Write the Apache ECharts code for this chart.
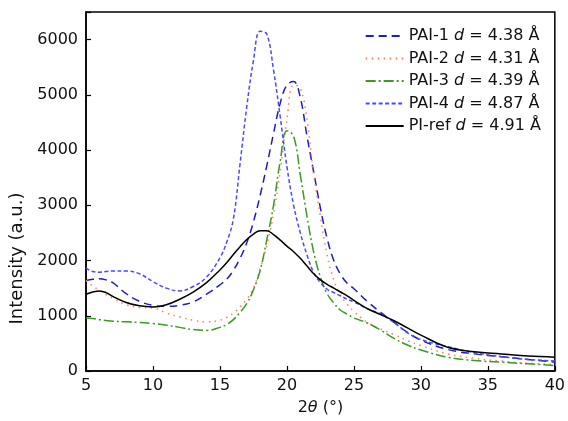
<!DOCTYPE html>
<html>
<head>
<meta charset="utf-8">
<script src="https://cdn.jsdelivr.net/npm/echarts@6/dist/echarts.min.js"></script>
<style>html,body{margin:0;padding:0;background:#fff}#c{width:568px;height:421px}</style>
</head>
<body>
<div id="c"></div>
<script>
// 2θ values (degrees)
const twoTheta = [5, 5.5, 6, 6.5, 7, 8, 9, 10, 11, 12, 13, 14, 15, 15.5, 16, 16.5, 17, 17.5, 18, 18.5, 19, 19.5, 20, 20.5, 21, 21.5, 22, 22.5, 23, 23.5, 24, 24.5, 25, 26, 27, 28, 29, 30, 32, 34, 36, 38, 40];
const pai1 = [1640,1660,1670,1650,1600,1400,1260,1190,1170,1190,1250,1390,1560,1660,1820,2040,2320,2700,3180,3720,4300,4850,5180,5240,4950,4250,3600,2950,2400,2000,1750,1590,1490,1260,1060,880,700,560,390,310,260,210,160];
const pai2 = [1640,1540,1460,1390,1320,1200,1150,1140,1050,980,920,890,920,970,1050,1160,1300,1500,1850,2270,2850,3620,4550,5180,5120,4550,3550,2800,2100,1650,1370,1210,1080,880,760,660,550,460,310,230,180,140,120];
const pai3 = [960,950,930,915,900,890,880,860,830,790,750,735,790,840,930,1060,1220,1470,1820,2380,3000,3800,4350,4250,3550,2800,2150,1700,1400,1230,1100,1030,960,870,740,590,470,380,250,190,160,130,100];
const pai4 = [1870,1800,1790,1800,1810,1810,1760,1620,1500,1450,1530,1700,2050,2330,2750,3750,4780,5620,6150,6100,5450,4600,3700,3000,2500,2100,1780,1600,1480,1420,1360,1300,1250,1130,1030,880,690,570,440,330,260,210,180];
const piRef = [1390,1430,1450,1420,1350,1240,1180,1160,1200,1300,1430,1600,1830,1960,2110,2250,2380,2480,2540,2540,2470,2370,2260,2160,2040,1900,1760,1650,1570,1500,1430,1360,1280,1130,1020,910,780,650,430,350,310,270,250];

const seriesNames = ['PAI-1', 'PAI-2', 'PAI-3', 'PAI-4', 'PI-ref'];
const dSpacings = ['4.38', '4.31', '4.39', '4.87', '4.91'];
const seriesValues = [pai1, pai2, pai3, pai4, piRef];
const xTicks = [5, 10, 15, 20, 25, 30, 35, 40];
const yTicks = [0, 1000, 2000, 3000, 4000, 5000, 6000];

const colors = ['#1c1cc8', '#ff7f50', '#3a9a22', '#4a4aff', '#000000'];
const dashes = [[8, 5], [1.5, 4.5], [10, 3, 2, 3], [4, 2.5], 'solid'];
const FONT = 'DejaVu Sans';

const chart = echarts.init(document.getElementById('c'), null, {renderer: 'canvas'});

const series = seriesNames.map((name, i) => ({
  name: name,
  type: 'line',
  data: twoTheta.map((x, j) => [x, seriesValues[i][j]]),
  showSymbol: false,
  symbol: 'none',
  smooth: 0.4,
  lineStyle: {color: colors[i], width: 1.5, type: dashes[i]},
  itemStyle: {color: colors[i]},
  z: 2 + i
}));

chart.setOption({
  animation: false,
  backgroundColor: '#fff',
  textStyle: {fontFamily: FONT},
  grid: {left: 86, right: 13, top: 12, bottom: 46, show: true, borderColor: '#000', borderWidth: 1.5},
  legend: {
    orient: 'vertical',
    right: 22,
    top: 22,
    itemWidth: 38,
    itemHeight: 14,
    itemGap: 4.5,
    data: seriesNames,
    itemStyle: {opacity: 0},
    formatter: function (name) {
      const i = seriesNames.indexOf(name);
      return '{n|' + name + ' }{i|d}{n| = ' + dSpacings[i] + ' Å}';
    },
    textStyle: {
      fontFamily: FONT, fontSize: 16, color: '#111', lineHeight: 18,
      rich: {
        n: {fontFamily: FONT, fontSize: 16, color: '#111'},
        i: {fontFamily: FONT, fontSize: 16, color: '#111', fontStyle: 'italic'}
      }
    }
  },
  xAxis: {
    type: 'value',
    min: xTicks[0],
    max: xTicks[xTicks.length - 1],
    interval: 5,
    name: '{n|2}{i|θ}{n| (°)}',
    nameLocation: 'middle',
    nameGap: 29,
    nameTextStyle: {
      fontFamily: FONT, fontSize: 16, color: '#111',
      rich: {
        n: {fontFamily: FONT, fontSize: 16, color: '#111'},
        i: {fontFamily: FONT, fontSize: 16, color: '#111', fontStyle: 'italic'}
      }
    },
    axisLine: {lineStyle: {color: '#000', width: 1.5}},
    axisTick: {inside: true, length: 5, lineStyle: {color: '#000', width: 1.2}},
    axisLabel: {fontFamily: FONT, fontSize: 16, color: '#111', margin: 7},
    splitLine: {show: false}
  },
  yAxis: {
    type: 'value',
    min: 0,
    max: 6500,
    interval: 1000,
    name: 'Intensity (a.u.)',
    nameLocation: 'middle',
    nameGap: 56,
    nameTextStyle: {fontFamily: FONT, fontSize: 18, color: '#111', padding: [0, 134, 0, 0]},
    axisLine: {lineStyle: {color: '#000', width: 1.5}},
    axisTick: {inside: true, length: 5, lineStyle: {color: '#000', width: 1.2}},
    axisLabel: {
      fontFamily: FONT, fontSize: 16, color: '#111', margin: 8,
      formatter: function (v) { return yTicks.indexOf(v) >= 0 ? String(v) : ''; }
    },
    splitLine: {show: false}
  },
  series: series
});
</script>
</body>
</html>
